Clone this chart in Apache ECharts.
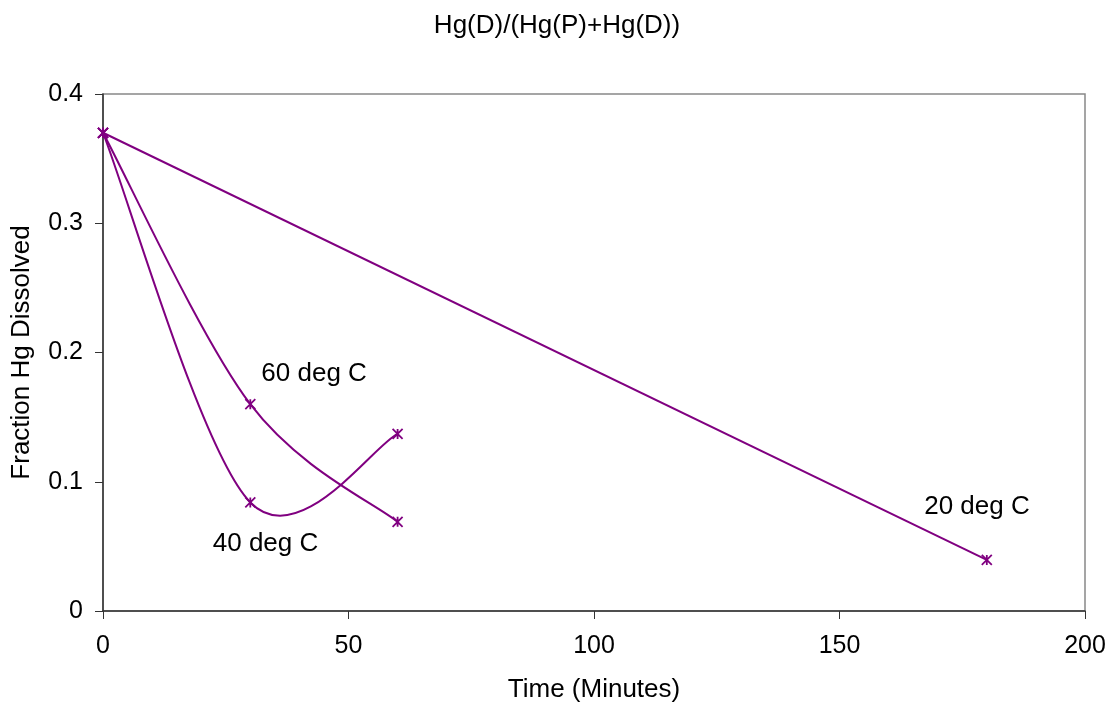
<!DOCTYPE html>
<html><head><meta charset="utf-8">
<script src="https://cdn.jsdelivr.net/npm/echarts@6/dist/echarts.min.js"></script>
<style>html,body{margin:0;padding:0;background:#fff}#c{width:1114px;height:711px}</style>
</head><body><div id="c"></div>
<script>
const titleText = 'Hg(D)/(Hg(P)+Hg(D))';
const xName = 'Time (Minutes)';
const yName = 'Fraction Hg Dissolved';
const seriesNames = ['20 deg C', '40 deg C', '60 deg C'];
const times20 = [0, 180];
const values20 = [0.370, 0.0395];
const times40 = [0, 30, 60];
const values40 = [0.370, 0.084, 0.137];
const times60 = [0, 30, 60];
const values60 = [0.370, 0.160, 0.069];
// label anchor points (data coordinates)
const labelPos = {
  '20 deg C': [178, 0.0805],
  '40 deg C': [33.1, 0.0518],
  '60 deg C': [43.0, 0.1834]
};

const C = '#800080';
const FONT = '"Liberation Sans", Arial, sans-serif';
const star = 'path://M0,0 L10,10 M10,0 L0,10 M5,0 L5,10';

function pts(xs, ys){ return xs.map((x,i)=>[x, ys[i]]); }

// markers + label (line itself drawn by straight line or smooth custom curve)
function mk(name, xs, ys, showLine){
  return {
    name, type:'line', data: pts(xs, ys), smooth:false,
    symbol: star, symbolSize: 10,
    itemStyle:{color:'transparent', borderColor:C, borderWidth:1.8},
    lineStyle:{color:C, width:2, opacity: showLine ? 1 : 0},
    z: 4,
    markPoint:{
      symbol:'circle', symbolSize:0, silent:true,
      data:[{coord: labelPos[name], value: name}],
      label:{show:true, position:'inside', formatter: name, color:'#000', fontSize:26, fontFamily:FONT}
    }
  };
}

// Excel-like smoothed curve (Catmull-Rom style Bezier) computed in pixel space via api.coord
function smoothCurve(name, xs, ys){
  const data = pts(xs, ys);
  return {
    name: name + ' curve', type:'custom', data: [data[0]], silent:true, z:3, clip:true,
    renderItem: function(params, api){
      const P = data.map(d => api.coord(d));
      const n = P.length;
      const T = P.map((p,i) => {
        const a = P[Math.max(i-1,0)], b = P[Math.min(i+1,n-1)];
        return [(b[0]-a[0])/6, (b[1]-a[1])/6];
      });
      const children = [];
      for (let i=0;i<n-1;i++){
        children.push({type:'bezierCurve', shape:{
          x1:P[i][0], y1:P[i][1], x2:P[i+1][0], y2:P[i+1][1],
          cpx1:P[i][0]+T[i][0], cpy1:P[i][1]+T[i][1],
          cpx2:P[i+1][0]-T[i+1][0], cpy2:P[i+1][1]-T[i+1][1]},
          style:{stroke:C, lineWidth:2, fill:null}});
      }
      return {type:'group', children};
    }
  };
}

const chart = echarts.init(document.getElementById('c'), null, {renderer:'canvas'});
chart.setOption({
  animation:false,
  backgroundColor:'#fff',
  title:{text:titleText, left:'center', top:8, textStyle:{fontSize:26, fontWeight:'normal', color:'#000', fontFamily:FONT}},
  grid:{left:103, top:94, right:29, bottom:100, show:true, borderColor:'#888', borderWidth:1.5},
  xAxis:{type:'value', min:0, max:200, interval:50,
    name:xName, nameLocation:'middle', nameGap:66,
    nameTextStyle:{fontSize:26, color:'#000', fontFamily:FONT},
    axisLine:{show:true, onZero:false, lineStyle:{color:'#333', width:1.5}},
    axisTick:{show:true, inside:false, length:8, lineStyle:{color:'#333'}},
    axisLabel:{fontSize:25, color:'#000', fontFamily:FONT, margin:23},
    splitLine:{show:false}},
  yAxis:{type:'value', min:0, max:0.4, interval:0.1,
    name:yName, nameLocation:'middle', nameGap:68, nameRotate:90,
    nameTextStyle:{fontSize:26, color:'#000', fontFamily:FONT},
    axisLine:{show:true, onZero:false, lineStyle:{color:'#333', width:1.5}},
    axisTick:{show:true, inside:false, length:8, lineStyle:{color:'#333'}},
    axisLabel:{fontSize:25, color:'#000', fontFamily:FONT, margin:20,
      formatter:v=>String(Math.round(v*10)/10)},
    splitLine:{show:false}},
  series:[
    mk(seriesNames[0], times20, values20, true),
    mk(seriesNames[1], times40, values40, false),
    mk(seriesNames[2], times60, values60, false),
    smoothCurve(seriesNames[1], times40, values40),
    smoothCurve(seriesNames[2], times60, values60)
  ]
});
</script></body></html>
